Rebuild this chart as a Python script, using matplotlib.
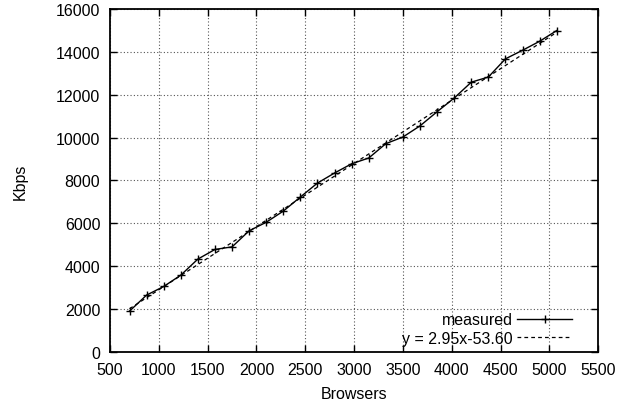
import matplotlib
matplotlib.use("Agg")
import matplotlib.pyplot as plt
import numpy as np

plt.rcParams['font.family'] = ['Liberation Sans', 'DejaVu Sans']

browsers = [700, 875, 1050, 1225, 1400, 1575, 1750, 1925, 2100, 2275, 2450, 2625, 2800,
            2975, 3150, 3325, 3500, 3675, 3850, 4025, 4200, 4375, 4550, 4725, 4900, 5075]
kbps = [1900, 2650, 3050, 3580, 4330, 4780, 4900, 5650, 6050, 6570, 7230, 7880, 8350,
        8780, 9050, 9720, 10030, 10550, 11210, 11850, 12590, 12830, 13680, 14080, 14500, 15000]
slope = 2.95
intercept = -53.60
fit_label = "y = 2.95x-53.60"

fig = plt.figure(figsize=(6.18, 4.06), dpi=100)
ax = fig.add_axes([0.178, 0.131, 0.790, 0.844])

ax.plot(browsers, kbps, color='black', lw=1.0, marker='+', ms=6, mew=1.0, label='measured')
xs = np.array([browsers[0], browsers[-1]])
ax.plot(xs, slope * xs + intercept, color='black', lw=0.9, ls=(0, (3, 2.5)), label=fit_label)

ax.set_xlim(500, 5500)
ax.set_ylim(0, 16000)
ax.set_xticks(np.arange(500, 5501, 500))
ax.set_yticks(np.arange(0, 16001, 2000))
ax.grid(True, color='#555555', ls=(0, (1, 2)), lw=0.8)
ax.tick_params(direction='in', length=5, width=1, top=True, right=True, labelsize=11.5)
ax.tick_params(axis='x', pad=7)
ax.tick_params(axis='y', pad=7)
for s in ax.spines.values():
    s.set_linewidth(1.3)

ax.set_xlabel('Browsers', fontsize=11.5, labelpad=7)
ax.set_ylabel('Kbps', fontsize=11.5, labelpad=20)

leg = ax.legend(loc='lower right', bbox_to_anchor=(0.947, 0.018), frameon=False,
                markerfirst=False, fontsize=11.5, handlelength=3.45, borderaxespad=0,
                borderpad=0, labelspacing=0.2, handletextpad=0.3)

fig.savefig('out.png', dpi=100)
